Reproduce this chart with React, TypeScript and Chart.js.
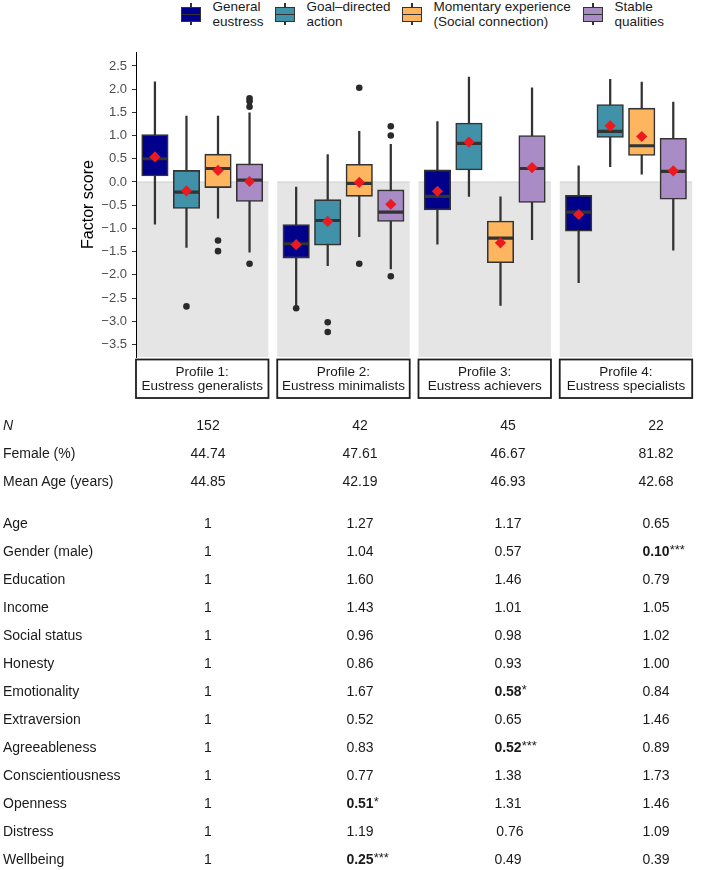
import React, { useEffect, useRef } from 'react';
import { Chart, registerables } from 'chart.js';

Chart.register(...registerables);

// ---------- data ----------
const PROFILE_TITLES = ['Profile 1:', 'Profile 2:', 'Profile 3:', 'Profile 4:'];
const PROFILE_NAMES = ['Eustress generalists', 'Eustress minimalists', 'Eustress achievers', 'Eustress specialists'];
const GROUP_LABELS = [
  ['General', 'eustress'],
  ['Goal\u2013directed', 'action'],
  ['Momentary experience', '(Social connection)'],
  ['Stable', 'qualities'],
];
const GROUP_COLORS = ['#00008B', '#4191A9', '#FDB55F', '#A98BC6'];
const Y_TICKS = [2.5, 2.0, 1.5, 1.0, 0.5, 0.0, -0.5, -1.0, -1.5, -2.0, -2.5, -3.0, -3.5];

// per group, values for [Profile 1, Profile 2, Profile 3, Profile 4]
const GEN_Q1 = [0.13, -1.64, -0.6, -1.06];
const GEN_MED = [0.5, -1.33, -0.31, -0.65];
const GEN_Q3 = [1.02, -0.92, 0.26, -0.29];
const GEN_LO = [-0.91, -2.7, -1.34, -2.17];
const GEN_HI = [2.16, -0.11, 1.3, 0.35];
const GEN_MEAN = [0.54, -1.35, -0.2, -0.7];
const GEN_OUT = [[1, -2.72]];

const GOAL_Q1 = [-0.57, -1.36, 0.26, 0.96];
const GOAL_MED = [-0.22, -0.83, 0.83, 1.09];
const GOAL_Q3 = [0.25, -0.38, 1.27, 1.67];
const GOAL_LO = [-1.41, -1.8, -0.31, 0.33];
const GOAL_HI = [1.42, 0.59, 2.26, 2.21];
const GOAL_MEAN = [-0.19, -0.85, 0.86, 1.21];
const GOAL_OUT = [[0, -2.68], [1, -3.02], [1, -3.23]];

const MOM_Q1 = [-0.12, -0.31, -1.74, 0.57];
const MOM_MED = [0.29, -0.03, -1.21, 0.78];
const MOM_Q3 = [0.6, 0.38, -0.84, 1.59];
const MOM_LO = [-0.78, -1.18, -2.66, 0.17];
const MOM_HI = [1.42, 1.09, -0.32, 2.15];
const MOM_MEAN = [0.25, -0.01, -1.31, 0.98];
const MOM_OUT = [[0, -1.26], [0, -1.49], [1, 2.03], [1, -1.76]];

const STAB_Q1 = [-0.42, -0.85, -0.44, -0.37];
const STAB_MED = [0.04, -0.65, 0.29, 0.23];
const STAB_Q3 = [0.39, -0.17, 1.0, 0.94];
const STAB_LO = [-1.51, -1.87, -1.24, -1.47];
const STAB_HI = [1.49, 0.81, 2.03, 1.72];
const STAB_MEAN = [0.01, -0.48, 0.31, 0.24];
const STAB_OUT = [[0, 1.8], [0, 1.74], [0, 1.62], [0, -1.76], [1, 1.2], [1, 1.0], [1, -2.03]];

// table
const DESC_LABELS = ['N', 'Female (%)', 'Mean Age (years)'];
const N_VALUES = ['152', '42', '45', '22'];
const FEMALE_VALUES = ['44.74', '47.61', '46.67', '81.82'];
const MEAN_AGE_VALUES = ['44.85', '42.19', '46.93', '42.68'];
const ODDS_LABELS = ['Age', 'Gender (male)', 'Education', 'Income', 'Social status', 'Honesty', 'Emotionality',
  'Extraversion', 'Agreeableness', 'Conscientiousness', 'Openness', 'Distress', 'Wellbeing'];
const ODDS_P1 = ['1', '1', '1', '1', '1', '1', '1', '1', '1', '1', '1', '1', '1'];
const ODDS_P2 = ['1.27', '1.04', '1.60', '1.43', '0.96', '0.86', '1.67', '0.52', '0.83', '0.77', '0.51*', '1.19', '0.25***'];
const ODDS_P3 = ['1.17', '0.57', '1.46', '1.01', '0.98', '0.93', '0.58*', '0.65', '0.52***', '1.38', '1.31', ' 0.76', '0.49'];
const ODDS_P4 = ['0.65', '0.10***', '0.79', '1.05', '1.02', '1.00', '0.84', '1.46', '0.89', '1.73', '1.46', '1.09', '0.39'];

// ---------- layout helpers ----------
const FONT = '"Liberation Sans", Arial, Helvetica, sans-serif';
const PANEL_UNITS = 4.2;
const PANEL_GAP = 0.278;
const X_MAX = 4 * PANEL_UNITS + 3 * PANEL_GAP;
const panelStart = (p: number) => p * (PANEL_UNITS + PANEL_GAP);
const boxX = (p: number, g: number) => panelStart(p) + 0.6 + g;

const STATS = [
  { q1: GEN_Q1, med: GEN_MED, q3: GEN_Q3, lo: GEN_LO, hi: GEN_HI, mean: GEN_MEAN, out: GEN_OUT },
  { q1: GOAL_Q1, med: GOAL_MED, q3: GOAL_Q3, lo: GOAL_LO, hi: GOAL_HI, mean: GOAL_MEAN, out: GOAL_OUT },
  { q1: MOM_Q1, med: MOM_MED, q3: MOM_Q3, lo: MOM_LO, hi: MOM_HI, mean: MOM_MEAN, out: MOM_OUT },
  { q1: STAB_Q1, med: STAB_MED, q3: STAB_Q3, lo: STAB_LO, hi: STAB_HI, mean: STAB_MEAN, out: STAB_OUT },
];

const facetPlugin = {
  id: 'facets',
  beforeDraw(chart: any) {
    const { ctx, chartArea, scales } = chart;
    const x = scales.x, y = scales.y;
    const y0 = y.getPixelForValue(0);
    ctx.save();
    PROFILE_TITLES.forEach((_, p) => {
      const l = x.getPixelForValue(panelStart(p));
      const r = x.getPixelForValue(panelStart(p) + PANEL_UNITS);
      ctx.fillStyle = '#e5e5e5';
      ctx.fillRect(l, y0, r - l, chartArea.bottom - y0);
      ctx.strokeStyle = '#d0d0d0';
      ctx.lineWidth = 1.2;
      ctx.beginPath();
      ctx.moveTo(l, y0);
      ctx.lineTo(r, y0);
      ctx.stroke();
    });
    ctx.restore();
  },
  afterDraw(chart: any) {
    const { ctx, chartArea, scales } = chart;
    const x = scales.x;
    ctx.save();
    PROFILE_TITLES.forEach((title, p) => {
      const l = x.getPixelForValue(panelStart(p));
      const r = x.getPixelForValue(panelStart(p) + PANEL_UNITS);
      const top = chartArea.bottom + 2.5;
      const h = 38.5;
      ctx.fillStyle = '#ffffff';
      ctx.fillRect(l, top, r - l, h);
      ctx.strokeStyle = '#1e1e1e';
      ctx.lineWidth = 1.8;
      ctx.strokeRect(l, top, r - l, h);
      ctx.fillStyle = '#1a1a1a';
      ctx.font = '13.5px ' + FONT;
      ctx.textAlign = 'center';
      ctx.textBaseline = 'middle';
      const cx = (l + r) / 2;
      ctx.fillText(title, cx, top + 12.5);
      ctx.fillText(PROFILE_NAMES[p], cx, top + 27);
    });
    ctx.restore();
  },
};

function buildConfig(): any {
  const whiskers: any[] = [];
  const medians: any[] = [];
  const means: any[] = [];
  const outliers: any[] = [];
  STATS.forEach((s, g) => {
    PROFILE_TITLES.forEach((_, p) => {
      const x = boxX(p, g);
      whiskers.push({ x, y: [s.lo[p], s.hi[p]] });
      medians.push({ x, y: s.med[p] });
      means.push({ x, y: s.mean[p] });
    });
    s.out.forEach(([p, v]) => outliers.push({ x: boxX(p, g), y: v }));
  });
  const boxes = STATS.map((s, g) => ({
    type: 'bar',
    label: GROUP_LABELS[g].join(' '),
    data: s.q1.map((q, p) => ({ x: boxX(p, g), y: [q, s.q3[p]] })),
    backgroundColor: GROUP_COLORS[g],
    borderColor: '#333333',
    borderWidth: 1.6,
    borderSkipped: false,
    barThickness: 26.5,
    grouped: false,
    order: 3,
  }));
  return {
    type: 'bar',
    data: {
      datasets: [
        {
          type: 'bar', label: 'whiskers', data: whiskers, backgroundColor: '#333333',
          borderWidth: 0, barThickness: 1.6, grouped: false, order: 4,
        },
        ...boxes,
        {
          type: 'scatter', label: 'median', data: medians, pointStyle: 'line', pointRadius: 12.6,
          borderColor: '#333333', pointBorderColor: '#333333', pointBorderWidth: 3.2, order: 2,
        },
        {
          type: 'scatter', label: 'outliers', data: outliers, pointStyle: 'circle', pointRadius: 3.3,
          backgroundColor: '#2a2a2a', pointBackgroundColor: '#2a2a2a', pointBorderWidth: 0, order: 1,
        },
        {
          type: 'scatter', label: 'mean', data: means, pointStyle: 'rectRot', pointRadius: 5.6,
          backgroundColor: '#EC1A1F', pointBackgroundColor: '#EC1A1F', pointBorderWidth: 0, order: 0,
        },
      ],
    },
    options: {
      responsive: false,
      animation: false,
      devicePixelRatio: 1,
      events: [],
      layout: { padding: { left: 79, right: 1, top: 52, bottom: 43 } },
      plugins: { legend: { display: false }, tooltip: { enabled: false } },
      scales: {
        x: { type: 'linear', min: 0, max: X_MAX, display: false, offset: false },
        y: {
          type: 'linear',
          min: -3.77,
          max: 2.8,
          afterBuildTicks: (scale: any) => {
            scale.ticks = Y_TICKS.map((v) => ({ value: v }));
          },
          afterFit: (scale: any) => {
            scale.width = 57;
          },
          ticks: {
            autoSkip: false,
            padding: 5,
            color: '#4d4d4d',
            font: { family: FONT, size: 13 },
            callback: (v: any) => Number(v).toFixed(1).replace('-', '\u2212'),
          },
          grid: { display: true, drawOnChartArea: false, drawTicks: true, tickLength: 4, color: '#333333', lineWidth: 1 },
          border: { display: true, color: '#000000', width: 1 },
          title: {
            display: true,
            text: 'Factor score',
            color: '#000000',
            font: { family: FONT, size: 16 },
            padding: { top: 0, bottom: 0 },
          },
        },
      },
    },
    plugins: [facetPlugin],
  };
}

// ---------- components ----------
const LEGEND_LEFT = [181, 275, 402, 583];

function Legend() {
  return (
    <>
      {GROUP_LABELS.map((lines, g) => (
        <React.Fragment key={g}>
          <div style={{ position: 'absolute', left: LEGEND_LEFT[g], top: 0, width: 20, height: 28 }}>
            <div style={{ position: 'absolute', left: 9.4, top: 3, width: 1.2, height: 22, background: '#333' }} />
            <div
              style={{
                position: 'absolute', left: 0, top: 7.3, width: 20, height: 14.4, boxSizing: 'border-box',
                border: '1.3px solid #333', background: GROUP_COLORS[g],
              }}
            />
            <div style={{ position: 'absolute', left: 0, top: 13.7, width: 20, height: 1.6, background: '#333' }} />
          </div>
          <div
            style={{
              position: 'absolute', left: LEGEND_LEFT[g] + 31.5, top: 0, fontSize: 13.5, lineHeight: '14.5px',
              color: '#1a1a1a', whiteSpace: 'nowrap',
            }}
          >
            {lines[0]}
            <br />
            {lines[1]}
          </div>
        </React.Fragment>
      ))}
    </>
  );
}

const COL_CENTERS = [208, 360, 508, 656];

function Value({ text, cx, cy }: { text: string; cx: number; cy: number }) {
  const m = text.match(/^([^*]+)(\**)$/);
  const num = m ? m[1] : text;
  const stars = m ? m[2] : '';
  return (
    <div
      style={{
        position: 'absolute', left: cx, top: cy - 9, height: 18, lineHeight: '18px',
        transform: 'translateX(-50%)', fontWeight: stars ? 'bold' : 'normal', whiteSpace: 'pre',
      }}
    >
      {num}
      {stars && (
        <span style={{ position: 'absolute', left: '100%', top: -1, fontSize: 13, fontWeight: 'normal' }}>{stars}</span>
      )}
    </div>
  );
}

function Row({ label, values, cy, italic }: { label: string; values: string[]; cy: number; italic?: boolean }) {
  return (
    <>
      <div
        style={{
          position: 'absolute', left: 3, top: cy - 9, height: 18, lineHeight: '18px', whiteSpace: 'nowrap',
          fontStyle: italic ? 'italic' : 'normal',
        }}
      >
        {label}
      </div>
      {values.map((v, i) => (
        <Value key={i} text={v} cx={COL_CENTERS[i]} cy={cy} />
      ))}
    </>
  );
}

function Table() {
  const descRows = [N_VALUES, FEMALE_VALUES, MEAN_AGE_VALUES];
  const rowStep = 28;
  const firstDesc = 425;
  const firstOdds = firstDesc + 3.5 * rowStep;
  return (
    <div style={{ position: 'absolute', left: 0, top: 0, width: 708, height: 870, fontSize: 14, color: '#1a1a1a' }}>
      {DESC_LABELS.map((l, i) => (
        <Row key={'d' + i} label={l} values={descRows[i]} cy={firstDesc + i * rowStep} italic={i === 0} />
      ))}
      {ODDS_LABELS.map((l, i) => (
        <Row
          key={'o' + i}
          label={l}
          values={[ODDS_P1[i], ODDS_P2[i], ODDS_P3[i], ODDS_P4[i]]}
          cy={firstOdds + i * rowStep}
        />
      ))}
    </div>
  );
}

export default function App() {
  const canvasRef = useRef<HTMLCanvasElement>(null);
  useEffect(() => {
    const chart = new Chart(canvasRef.current as HTMLCanvasElement, buildConfig());
    return () => chart.destroy();
  }, []);
  return (
    <div
      style={{
        position: 'absolute', left: 0, top: 0, width: 708, height: 870, background: '#ffffff',
        fontFamily: FONT, color: '#1a1a1a', overflow: 'hidden',
      }}
    >
      <Legend />
      <div style={{ position: 'absolute', left: 0, top: 0, width: 708, height: 400 }}>
        <canvas ref={canvasRef} width={708} height={400} style={{ display: 'block' }} />
      </div>
      <Table />
    </div>
  );
}
